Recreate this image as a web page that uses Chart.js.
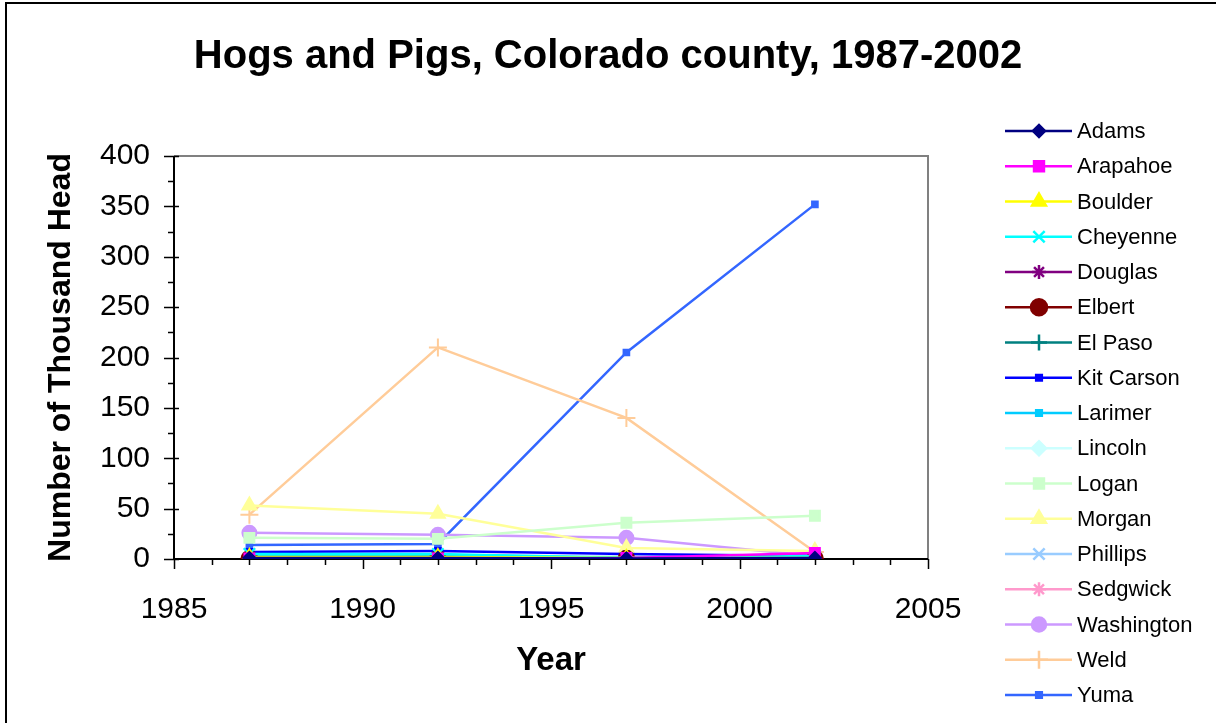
<!DOCTYPE html>
<html>
<head>
<meta charset="utf-8">
<script src="https://cdn.jsdelivr.net/npm/chart.js@4"></script>
<style>
  html, body { margin: 0; padding: 0; background: #fff; }
  #wrap { width: 1216px; height: 723px; position: relative; }
</style>
</head>
<body>
<div id="wrap"><canvas id="chart"></canvas></div>
<script>
// census years
const years = [1987, 1992, 1997, 2002];

// thousand head
const adams      = [1, 1, 0.5, 1];
const arapahoe   = [0.5, 0.5, 1, 6];
const boulder    = [2, 2, 1, 1];
const cheyenne   = [5, 5, 1, 3];
const douglas    = [0.3, 0.3, 0.3, 0.3];
const elbert     = [0.2, 0.2, 0.2, 0.2];
const elPaso     = [1, 2, 1, 3];
const kitCarson  = [7, 8, 5, 3];
const larimer    = [4, 4, 1, 1];
const lincoln    = [3, 3, 2, 2];
const logan      = [21, 20, 36, 43];
const morgan     = [53, 45, 11, 8];
const phillips   = [5, 4, 2, 2];
const sedgwick   = [0.5, 0.5, 0.3, 0.3];
const washington = [26, 24, 21, 3];
const weld       = [44, 210, 140, 7];
const yuma       = [14, 15, 205, 352];

const yTicks = [0, 50, 100, 150, 200, 250, 300, 350, 400];
const xTicks = [1985, 1990, 1995, 2000, 2005];

const series = [
  { label: 'Adams',      data: adams,      color: '#000080', style: 'rectRot',  r: 6 },
  { label: 'Arapahoe',   data: arapahoe,   color: '#FF00FF', style: 'rect',     r: 7 },
  { label: 'Boulder',    data: boulder,    color: '#FFFF00', style: 'triangle', r: 8 },
  { label: 'Cheyenne',   data: cheyenne,   color: '#00FFFF', style: 'crossRot', r: 8 },
  { label: 'Douglas',    data: douglas,    color: '#800080', style: 'star',     r: 7 },
  { label: 'Elbert',     data: elbert,     color: '#800000', style: 'circle',   r: 8 },
  { label: 'El Paso',    data: elPaso,     color: '#008080', style: 'cross',    r: 8 },
  { label: 'Kit Carson', data: kitCarson,  color: '#0000FF', style: 'rect',     r: 4 },
  { label: 'Larimer',    data: larimer,    color: '#00CCFF', style: 'rect',     r: 4 },
  { label: 'Lincoln',    data: lincoln,    color: '#CCFFFF', style: 'rectRot',  r: 7 },
  { label: 'Logan',      data: logan,      color: '#CCFFCC', style: 'rect',     r: 7 },
  { label: 'Morgan',     data: morgan,     color: '#FFFF99', style: 'triangle', r: 8 },
  { label: 'Phillips',   data: phillips,   color: '#99CCFF', style: 'crossRot', r: 8 },
  { label: 'Sedgwick',   data: sedgwick,   color: '#FF99CC', style: 'star',     r: 7 },
  { label: 'Washington', data: washington, color: '#CC99FF', style: 'circle',   r: 7 },
  { label: 'Weld',       data: weld,       color: '#FFCC99', style: 'cross',    r: 9 },
  { label: 'Yuma',       data: yuma,       color: '#3366FF', style: 'rect',     r: 4 }
];

const datasets = series.map(s => ({
  label: s.label,
  data: s.data.map((v, i) => ({ x: years[i], y: v })),
  borderColor: s.color,
  backgroundColor: s.color,
  borderWidth: 2.5,
  pointStyle: s.style,
  pointRadius: s.r,
  pointBorderWidth: 2,
  pointHoverRadius: s.r,
  tension: 0
}));

const FONT = 'Arial, "Liberation Sans", sans-serif';

// frame, minor ticks and the plot border
const framePlugin = {
  id: 'frame',
  beforeDraw(chart) {
    const ctx = chart.ctx;
    ctx.save();
    ctx.strokeStyle = '#000';
    ctx.lineWidth = 2;
    ctx.beginPath();
    ctx.moveTo(6, 723);
    ctx.lineTo(6, 3);
    ctx.lineTo(1216, 3);
    ctx.stroke();
    ctx.restore();
  },
  beforeDatasetsDraw(chart) {
    const { ctx, chartArea: a, scales: { x, y } } = chart;
    ctx.save();
    ctx.strokeStyle = '#808080';
    ctx.lineWidth = 2;
    ctx.beginPath();
    ctx.moveTo(a.left, a.top);
    ctx.lineTo(a.right, a.top);
    ctx.lineTo(a.right, a.bottom);
    ctx.stroke();

    ctx.strokeStyle = '#000';
    ctx.lineWidth = 1.5;
    ctx.beginPath();
    for (let v = 0; v <= 400; v += 25) {
      const py = Math.round(y.getPixelForValue(v)) + 0.5;
      const major = v % 50 === 0;
      ctx.moveTo(a.left - (major ? 10 : 6), py);
      ctx.lineTo(a.left + (major ? 5 : 0), py);
    }
    for (let yr = 1985; yr <= 2005; yr++) {
      const px = Math.round(x.getPixelForValue(yr)) + 0.5;
      const major = yr % 5 === 0;
      ctx.moveTo(px, a.bottom);
      ctx.lineTo(px, a.bottom + (major ? 10 : 6));
    }
    ctx.stroke();
    ctx.lineWidth = 2;
    ctx.beginPath();
    ctx.moveTo(a.left, a.top);
    ctx.lineTo(a.left, a.bottom);
    ctx.lineTo(a.right, a.bottom);
    ctx.stroke();
    ctx.restore();
  }
};

// legend with line through the marker, like the original
const sideLegend = {
  id: 'sideLegend',
  afterDraw(chart) {
    const ctx = chart.ctx;
    ctx.save();
    chart.data.datasets.forEach((ds, i) => {
      const cy = 131 + i * 35.25;
      ctx.strokeStyle = ds.borderColor;
      ctx.lineWidth = 2.5;
      ctx.beginPath();
      ctx.moveTo(1005, cy);
      ctx.lineTo(1072, cy);
      ctx.stroke();
      ctx.fillStyle = ds.backgroundColor;
      Chart.helpers.drawPoint(ctx, {
        pointStyle: ds.pointStyle,
        radius: ds.pointRadius,
        rotation: 0,
        borderWidth: 2
      }, 1039, cy);
      ctx.fillStyle = '#000';
      ctx.font = '22px ' + FONT;
      ctx.textBaseline = 'middle';
      ctx.textAlign = 'left';
      ctx.fillText(ds.label, 1077, cy + 1);
    });
    ctx.restore();
  }
};

new Chart(document.getElementById('chart'), {
  type: 'line',
  data: { datasets },
  plugins: [framePlugin, sideLegend],
  options: {
    responsive: true,
    maintainAspectRatio: false,
    animation: false,
    layout: { padding: 0 },
    plugins: {
      legend: { display: false },
      tooltip: { enabled: false },
      title: {
        display: true,
        text: 'Hogs and Pigs, Colorado county, 1987-2002',
        color: '#000',
        font: { family: FONT, size: 40, weight: 'bold', lineHeight: 1.2 },
        padding: { top: 33, bottom: 75 }
      }
    },
    scales: {
      x: {
        type: 'linear',
        min: 1985,
        max: 2005,
        afterFit: s => { s.height = 164; },
        afterBuildTicks: s => { s.ticks = xTicks.map(v => ({ value: v })); },
        grid: { display: false },
        border: { display: false },
        ticks: {
          color: '#000',
          padding: 25,
          maxRotation: 0,
          callback: v => String(v),
          font: { family: FONT, size: 30 }
        },
        title: {
          display: true,
          text: 'Year',
          color: '#000',
          font: { family: FONT, size: 33, weight: 'bold', lineHeight: 1.2 },
          padding: { top: 0, bottom: 42 }
        }
      },
      y: {
        type: 'linear',
        min: 0,
        max: 400,
        afterFit: s => { s.width = 174; },
        afterBuildTicks: s => { s.ticks = yTicks.map(v => ({ value: v })); },
        grid: { display: false },
        border: { display: false },
        ticks: {
          color: '#000',
          padding: 16,
          callback: v => String(v),
          font: { family: FONT, size: 30 }
        },
        title: {
          display: true,
          text: 'Number of Thousand Head',
          color: '#000',
          font: { family: FONT, size: 32, weight: 'bold', lineHeight: 1.2 },
          padding: { top: 42, bottom: 0 }
        }
      },
      // empty axis that only reserves the legend's room on the right
      legendRoom: {
        type: 'linear',
        position: 'right',
        afterFit: s => { s.width = 288; },
        grid: { display: false },
        border: { display: false },
        ticks: { display: false }
      }
    }
  }
});
</script>
</body>
</html>
